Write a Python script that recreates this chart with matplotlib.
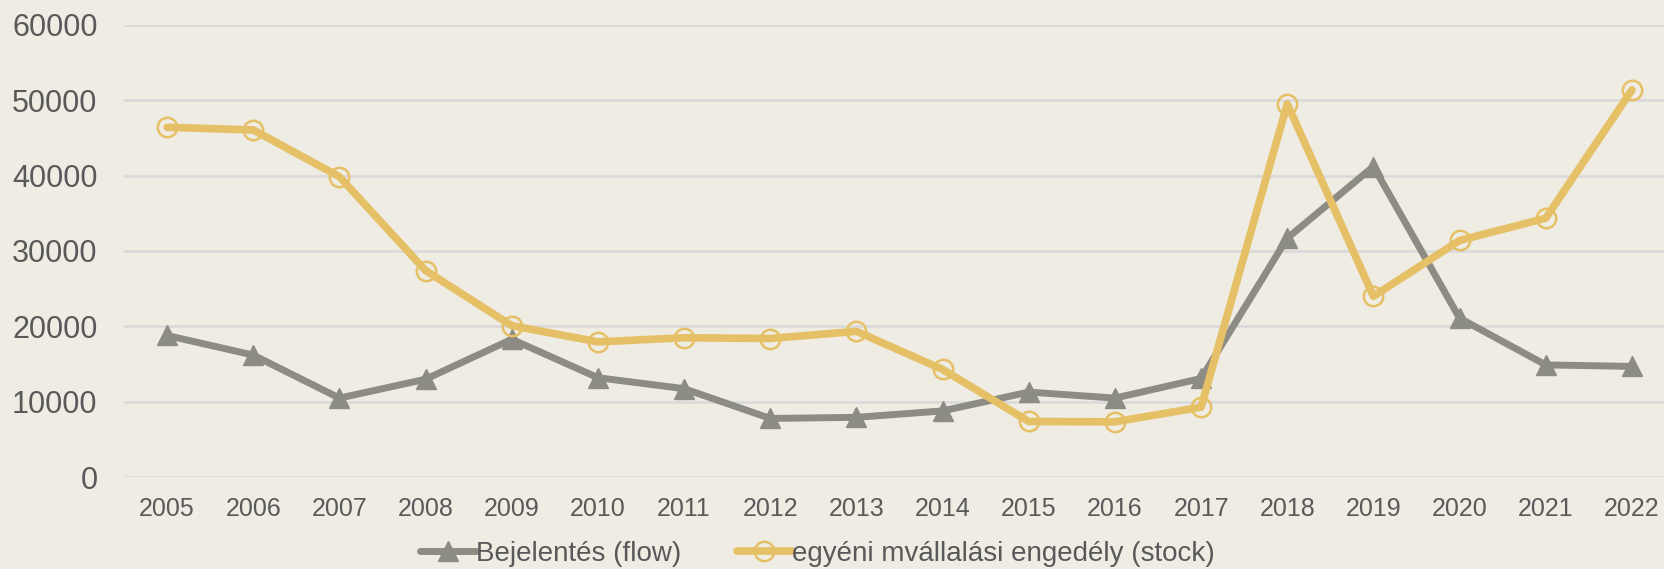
import matplotlib
matplotlib.use("Agg")
import matplotlib.pyplot as plt

years = [str(y) for y in range(2005, 2023)]
flow = [18800, 16200, 10500, 13000, 18300, 13200, 11750, 7800, 7950, 8800,
        11300, 10500, 13100, 31700, 41200, 21100, 14900, 14700]
stock = [46400, 46050, 39850, 27400, 20100, 17950, 18500, 18400, 19350, 14300,
         7400, 7350, 9300, 49500, 24000, 31400, 34350, 51350]
yticks = [0, 10000, 20000, 30000, 40000, 50000, 60000]

font = "Liberation Sans"
bg = "#EFECE3"
gray = "#8C8C85"
yellow = "#E6C066"
txt = "#595959"

fig = plt.figure(figsize=(16.65, 5.69), dpi=100, facecolor=bg)
ax = fig.add_axes([124/1665, 1-477.3/569, (1675-124)/1665, (477.3-24.7)/569])
ax.set_facecolor(bg)
x = list(range(len(years)))
ax.plot(x, flow, color=gray, lw=5, marker="^", ms=15, mfc=gray, mec=gray,
        label="Bejelentés (flow)", solid_capstyle="round", zorder=3)
ax.plot(x, stock, color=yellow, lw=5.5, marker="o", ms=14, mfc="none", mec=yellow,
        mew=1.8, label="egyéni mvállalási engedély (stock)", solid_capstyle="round", zorder=4)
ax.set_xlim(-0.5, len(years) - 0.5)
ax.set_ylim(0, 60000)
ax.set_yticks(yticks)
ax.set_yticklabels([str(v) for v in yticks])
ax.set_xticks(x)
ax.set_xticklabels(years)
ax.grid(axis="y", color="#D9D9D9", lw=1.8)
ax.set_axisbelow(True)
for s in ax.spines.values():
    s.set_visible(False)
ax.tick_params(axis="both", length=0, colors=txt)
ax.tick_params(axis="y", pad=19, labelsize=22)
ax.tick_params(axis="x", pad=14, labelsize=18)
for lab in ax.get_xticklabels() + ax.get_yticklabels():
    lab.set_fontfamily(font)

leg = fig.legend(loc="center", bbox_to_anchor=(0.491, 0.027), ncol=2, frameon=False,
                 prop={"family": font, "size": 20}, labelcolor=txt,
                 handlelength=2.0, handletextpad=0.0, columnspacing=2.0)
fig.savefig("out.png", dpi=100, facecolor=bg)
